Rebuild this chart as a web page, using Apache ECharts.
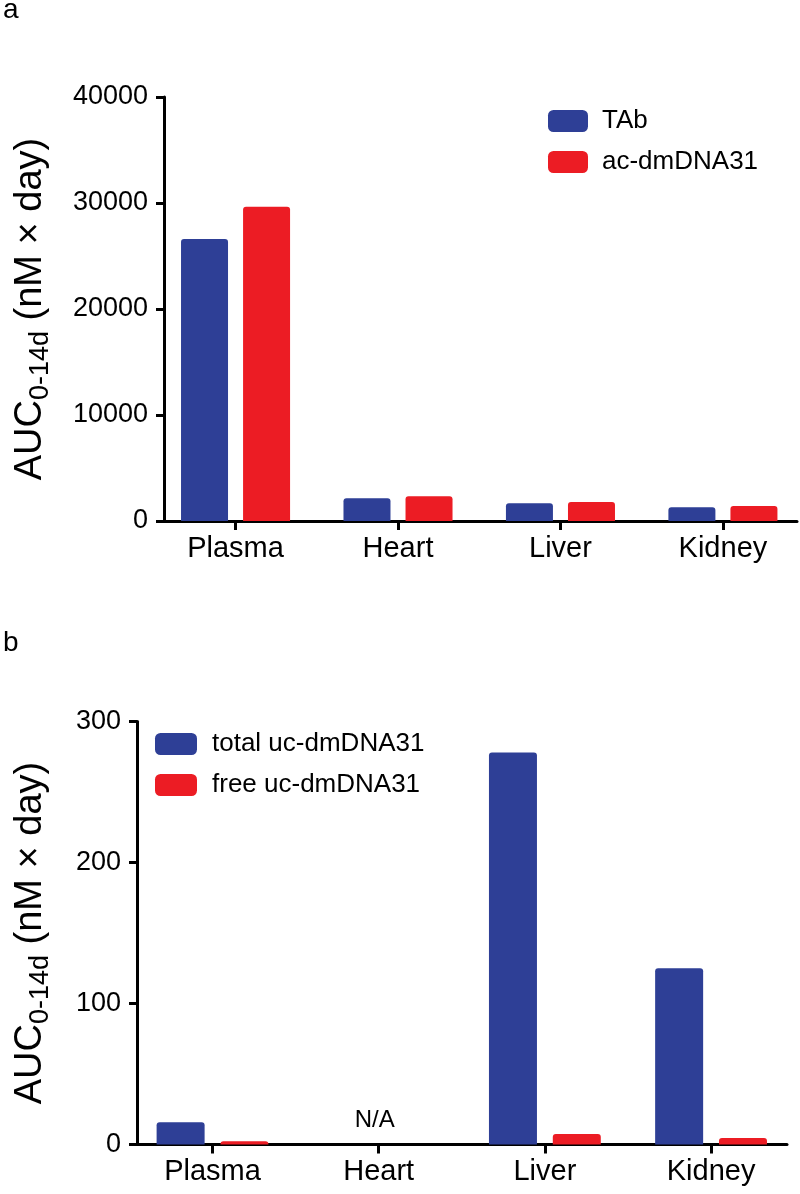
<!DOCTYPE html>
<html><head><meta charset="utf-8">
<script src="https://cdn.jsdelivr.net/npm/echarts@6/dist/echarts.min.js"></script>
<style>html,body{margin:0;padding:0;background:#fff}#c{width:800px;height:1194px}</style>
</head><body><div id="c"></div>
<script>
// ---- data ----
const categoriesA = ['Plasma', 'Heart', 'Liver', 'Kidney'];
const tabValues = [26600, 2150, 1680, 1300];
const acValues = [29650, 2330, 1790, 1410];
const yTicksA = [0, 10000, 20000, 30000, 40000];

const categoriesB = ['Plasma', 'Heart', 'Liver', 'Kidney'];
const totalUcValues = [15.7, null, 278, 125];
const freeUcValues = [2.3, null, 7.4, 4.6];
const yTicksB = [0, 100, 200, 300];
const naLabels = [{ index: 1, text: 'N/A' }];

const seriesNamesA = ['TAb', 'ac-dmDNA31'];
const seriesNamesB = ['total uc-dmDNA31', 'free uc-dmDNA31'];
const panelLetters = ['a', 'b'];

// ---- style ----
const FONT = 'Liberation Sans, Arial, Helvetica, sans-serif';
const BLUE = '#2E3F96';
const RED = '#EC1C24';
const yTitle = 'AUC{sub|0-14d} (nM × day)';

function pts(vals) { return vals.map((v, i) => [i, v]); }

function xAxisFor(gridIndex, cats, min, max) {
  const idx = cats.map((c, i) => i);
  return {
    gridIndex, type: 'value', min, max,
    splitLine: { show: false },
    axisLine: { show: true, onZero: false, lineStyle: { color: '#000', width: 3 } },
    axisTick: { show: true, customValues: idx, length: 9, lineStyle: { color: '#000', width: 3 } },
    axisLabel: {
      show: true, customValues: idx, margin: 13,
      formatter: v => cats[Math.round(v)],
      color: '#000', fontSize: 29, fontFamily: FONT
    }
  };
}
function yAxisFor(gridIndex, ticks, nameGap) {
  return {
    gridIndex, type: 'value',
    min: ticks[0], max: ticks[ticks.length - 1], interval: ticks[1] - ticks[0],
    splitLine: { show: false },
    axisLine: { show: true, onZero: false, lineStyle: { color: '#000', width: 3 } },
    axisTick: { show: true, length: 8, lineStyle: { color: '#000', width: 3 } },
    axisLabel: { color: '#000', fontSize: 27, fontFamily: FONT, margin: 16, formatter: v => String(v) },
    name: yTitle, nameLocation: 'middle', nameGap, nameRotate: 90,
    nameTextStyle: {
      color: '#000', fontSize: 38, fontFamily: FONT, lineHeight: 44,
      rich: {
        sub: { fontSize: 27, fontFamily: FONT, color: '#000', verticalAlign: 'bottom', lineHeight: 46 }
      }
    }
  };
}
function barSeries(name, vals, xi, color, bw, gap) {
  return {
    type: 'bar', name, data: pts(vals), xAxisIndex: xi, yAxisIndex: xi,
    barWidth: bw, barGap: gap,
    itemStyle: { color, borderRadius: [3, 3, 0, 0] }
  };
}

const chart = echarts.init(document.getElementById('c'), null, { renderer: 'canvas' });
chart.setOption({
  backgroundColor: '#fff',
  animation: false,
  textStyle: { fontFamily: FONT },
  title: [
    { text: panelLetters[0], left: 3, top: -4, padding: 0, textStyle: { fontSize: 28, fontWeight: 'normal', color: '#000', fontFamily: FONT } },
    { text: panelLetters[1], left: 3, top: 629, padding: 0, textStyle: { fontSize: 28, fontWeight: 'normal', color: '#000', fontFamily: FONT } }
  ],
  legend: [
    {
      data: seriesNamesA, orient: 'vertical', left: 548, top: 108, padding: 0,
      itemWidth: 40, itemHeight: 22, itemGap: 15, icon: 'roundRect',
      textStyle: { fontSize: 26, color: '#000', fontFamily: FONT, lineHeight: 22, padding: [0, 0, 0, 9] }
    },
    {
      data: seriesNamesB, orient: 'vertical', left: 155, top: 731, padding: 0,
      itemWidth: 42, itemHeight: 22, itemGap: 15, icon: 'roundRect',
      textStyle: { fontSize: 26, color: '#000', fontFamily: FONT, lineHeight: 22, padding: [0, 0, 0, 10] }
    }
  ],
  grid: [
    { left: 160, top: 97, width: 637, height: 424 },
    { left: 133, top: 721.5, width: 654, height: 423 }
  ],
  xAxis: [
    xAxisFor(0, categoriesA, -0.4404, 3.456),
    xAxisFor(1, categoriesB, -0.4545, 3.457)
  ],
  yAxis: [
    yAxisFor(0, yTicksA, 110),
    yAxisFor(1, yTicksB, 83)
  ],
  series: [
    barSeries(seriesNamesA[0], tabValues, 0, BLUE, 47, '32%'),
    barSeries(seriesNamesA[1], acValues, 0, RED, 47, '32%'),
    barSeries(seriesNamesB[0], totalUcValues, 1, BLUE, 48, '33%'),
    barSeries(seriesNamesB[1], freeUcValues, 1, RED, 48, '33%'),
    {
      type: 'scatter', name: 'na', xAxisIndex: 1, yAxisIndex: 1,
      symbolSize: 0, silent: true,
      itemStyle: { opacity: 1 },
      data: naLabels.map(n => ({ value: [n.index, 0], name: n.text })),
      label: { show: true, position: 'top', distance: 12, offset: [-4, 0], color: '#000', opacity: 1, fontSize: 24, fontFamily: FONT, formatter: p => p.name }
    }
  ]
});
</script></body></html>
